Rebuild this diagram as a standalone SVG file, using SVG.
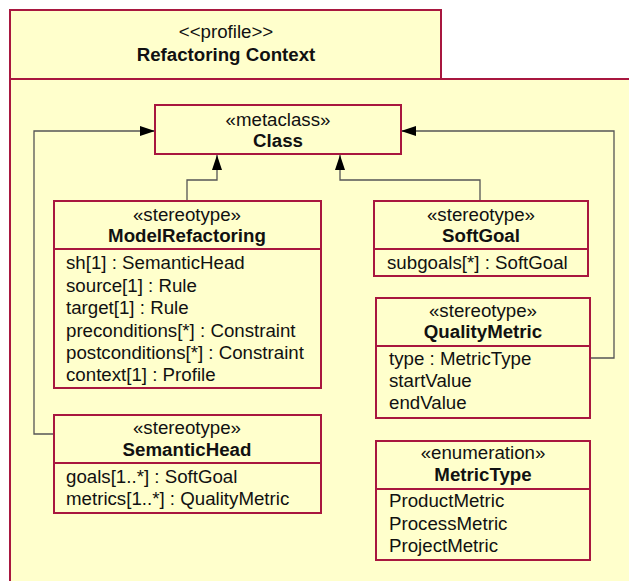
<svg xmlns="http://www.w3.org/2000/svg" width="629" height="581" viewBox="0 0 629 581">
<style>
.box{fill:#FFFFCC;stroke:#A8173F;stroke-width:2}
.div{stroke:#A8173F;stroke-width:2}
text{font-family:"Liberation Sans",Arial,sans-serif;font-size:18.7px;fill:#111}
.c{text-anchor:middle}
.b{font-weight:bold}
.conn{fill:none;stroke:#555;stroke-width:1.3}
</style>
<defs>
<marker id="ah" markerWidth="16" markerHeight="12" refX="15" refY="5.5" orient="auto" markerUnits="userSpaceOnUse">
<path d="M0,0.5 L15,5.5 L0,10.5 Z" fill="#000"/>
</marker>
</defs>
<rect width="629" height="581" fill="#FFFFFF"/>
<g id="profile">
<rect class="box" x="10" y="79" width="640" height="520"/>
<rect class="box" x="10" y="10" width="431" height="69"/>
<text class="c" x="226" y="38">&lt;&lt;profile&gt;&gt;</text>
<text class="c b" x="226" y="61">Refactoring Context</text>
</g>
<g id="connectors">
<path class="conn" d="M54,434 H34 V131 H155" marker-end="url(#ah)"/>
<path class="conn" d="M590,358 H614 V131 H401" marker-end="url(#ah)"/>
<path class="conn" d="M187,201 V180 H217 V155" marker-end="url(#ah)"/>
<path class="conn" d="M480,201 V180 H340 V155" marker-end="url(#ah)"/>
</g>
<g id="Class">
<rect class="box" x="155" y="105" width="246" height="49"/>
<text class="c" x="278" y="126">«metaclass»</text>
<text class="c b" x="278" y="147">Class</text>
</g>
<g id="ModelRefactoring">
<rect class="box" x="54" y="201" width="267" height="187"/>
<line class="div" x1="54" y1="249" x2="321" y2="249"/>
<text class="c" x="187" y="221">«stereotype»</text>
<text class="c b" x="187" y="242">ModelRefactoring</text>
<text x="66" y="269">sh[1] : SemanticHead</text>
<text x="66" y="292">source[1] : Rule</text>
<text x="66" y="314">target[1] : Rule</text>
<text x="66" y="337">preconditions[*] : Constraint</text>
<text x="66" y="359">postconditions[*] : Constraint</text>
<text x="66" y="381">context[1] : Profile</text>
</g>
<g id="SoftGoal">
<rect class="box" x="374" y="201" width="214" height="75"/>
<line class="div" x1="374" y1="249" x2="588" y2="249"/>
<text class="c" x="481" y="221">«stereotype»</text>
<text class="c b" x="481" y="242">SoftGoal</text>
<text x="387" y="269">subgoals[*] : SoftGoal</text>
</g>
<g id="QualityMetric">
<rect class="box" x="376" y="298" width="214" height="120"/>
<line class="div" x1="376" y1="346" x2="590" y2="346"/>
<text class="c" x="483" y="317">«stereotype»</text>
<text class="c b" x="483" y="338">QualityMetric</text>
<text x="389" y="365">type : MetricType</text>
<text x="389" y="387">startValue</text>
<text x="389" y="409">endValue</text>
</g>
<g id="SemanticHead">
<rect class="box" x="54" y="415" width="267" height="98"/>
<line class="div" x1="54" y1="463" x2="321" y2="463"/>
<text class="c" x="187" y="434">«stereotype»</text>
<text class="c b" x="187" y="456">SemanticHead</text>
<text x="66" y="483">goals[1..*] : SoftGoal</text>
<text x="66" y="505">metrics[1..*] : QualityMetric</text>
</g>
<g id="MetricType">
<rect class="box" x="376" y="441" width="214" height="119"/>
<line class="div" x1="376" y1="489" x2="590" y2="489"/>
<text class="c" x="483" y="459">«enumeration»</text>
<text class="c b" x="483" y="481">MetricType</text>
<text x="389" y="507">ProductMetric</text>
<text x="389" y="530">ProcessMetric</text>
<text x="389" y="552">ProjectMetric</text>
</g>
</svg>
